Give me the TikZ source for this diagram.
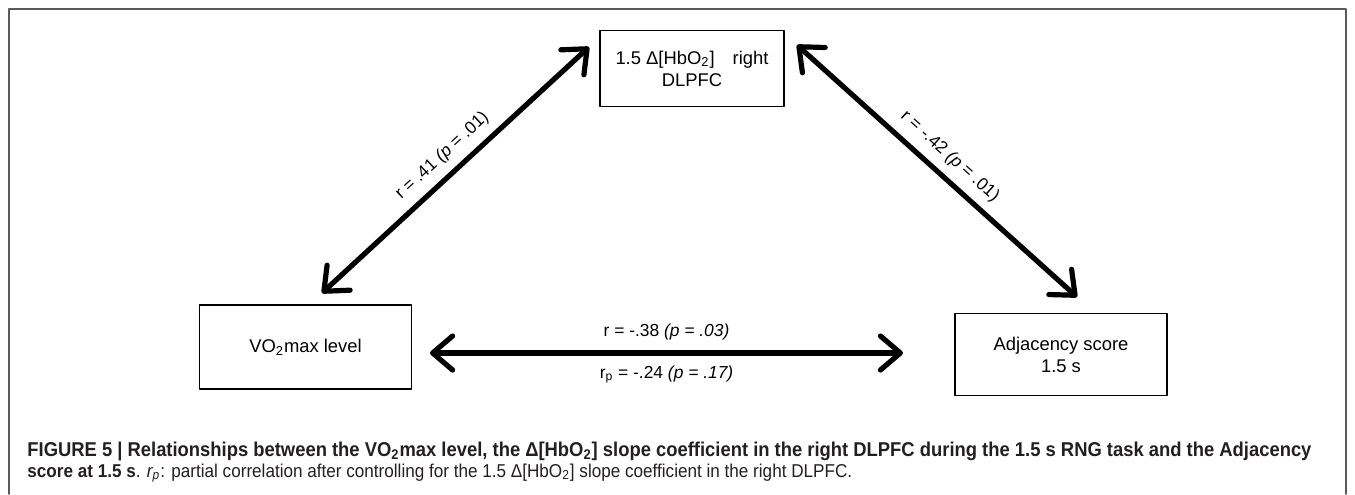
\documentclass[tikz,border=0pt]{standalone}
\usepackage{fontspec}
\setmainfont{Liberation Sans}
\newfontfamily\capfont[FakeStretch=0.92]{Liberation Sans}
\usetikzlibrary{arrows.meta}
\definecolor{framegray}{RGB}{90,90,90}
\definecolor{captext}{RGB}{35,31,32}
\begin{document}
\begin{tikzpicture}[x=0.5pt, y=-0.5pt, line cap=round, line join=round, font=\fontsize{9.2}{11}\selectfont]
				\tikzset{varbox/.style={draw, line width=0.8pt, minimum width=106pt, minimum height=41pt, align=center},
				corr/.style={line width=2.6pt, {Straight Barb[round,length=10pt,width=17pt]}-{Straight Barb[round,length=10pt,width=17pt]}},
				corr label/.style={font=\fontsize{8.7}{10}\selectfont}}
				\useasboundingbox (0,0) rectangle (1355,494);
				% frame
				\draw[framegray, line width=0.9pt] (9,494)--(9,9)--(1346,9)--(1346,494);
				% variables
				\node[varbox, minimum width=92pt, minimum height=38pt] (hbo) at (692,68.5) {1.5 Δ[HbO\textsubscript{2}]\hspace{9pt}right\\DLPFC};
				\node[varbox, minimum height=42pt] (vo) at (305.5,347) {VO\textsubscript{2}max level};
				\node[varbox] (adj) at (1061,354.5) {Adjacency score\\1.5 s};
				% arrow ends
				\path (589,47) coordinate (hboL)
				(322,293) coordinate (voT)
				(797,45) coordinate (hboR)
				(1077,297) coordinate (adjT)
				(430,353) coordinate (voR)
				(903,353) coordinate (adjL);
				\draw[corr] (voT)--(hboL) node[midway, above=1pt, sloped, corr label]{r = .41 \textit{(p} = .01)};
				\draw[corr] (hboR)--(adjT) node[midway, above=1pt, sloped, corr label]{r = -.42 \textit{(p} = .01)};
				\draw[corr] (voR)--(adjL) node[midway, above=2pt, corr label]{r = -.38 \textit{(p = .03)}}
				node[midway, below=2pt, corr label]{r\textsubscript{p} = -.24 \textit{(p = .17)}};
				% caption
				\node[anchor=base west, inner sep=0pt, text=captext, font=\capfont\fontsize{10}{12}\selectfont\bfseries] (cap1) at (27,456)
				{FIGURE 5 | Relationships between the VO\textsubscript{2}max level, the Δ[HbO\textsubscript{2}] slope coefficient in the right DLPFC during the 1.5 s RNG task and the Adjacency};
				\node[anchor=base west, inner sep=0pt, text=captext, font=\capfont\fontsize{9.3}{11}\selectfont] (cap2) at (27,477)
				{\textbf{score at 1.5 s}. \textit{r\textsubscript{p}}: partial correlation after controlling for the 1.5 Δ[HbO\textsubscript{2}] slope coefficient in the right DLPFC.};
			\end{tikzpicture}
\end{document}
